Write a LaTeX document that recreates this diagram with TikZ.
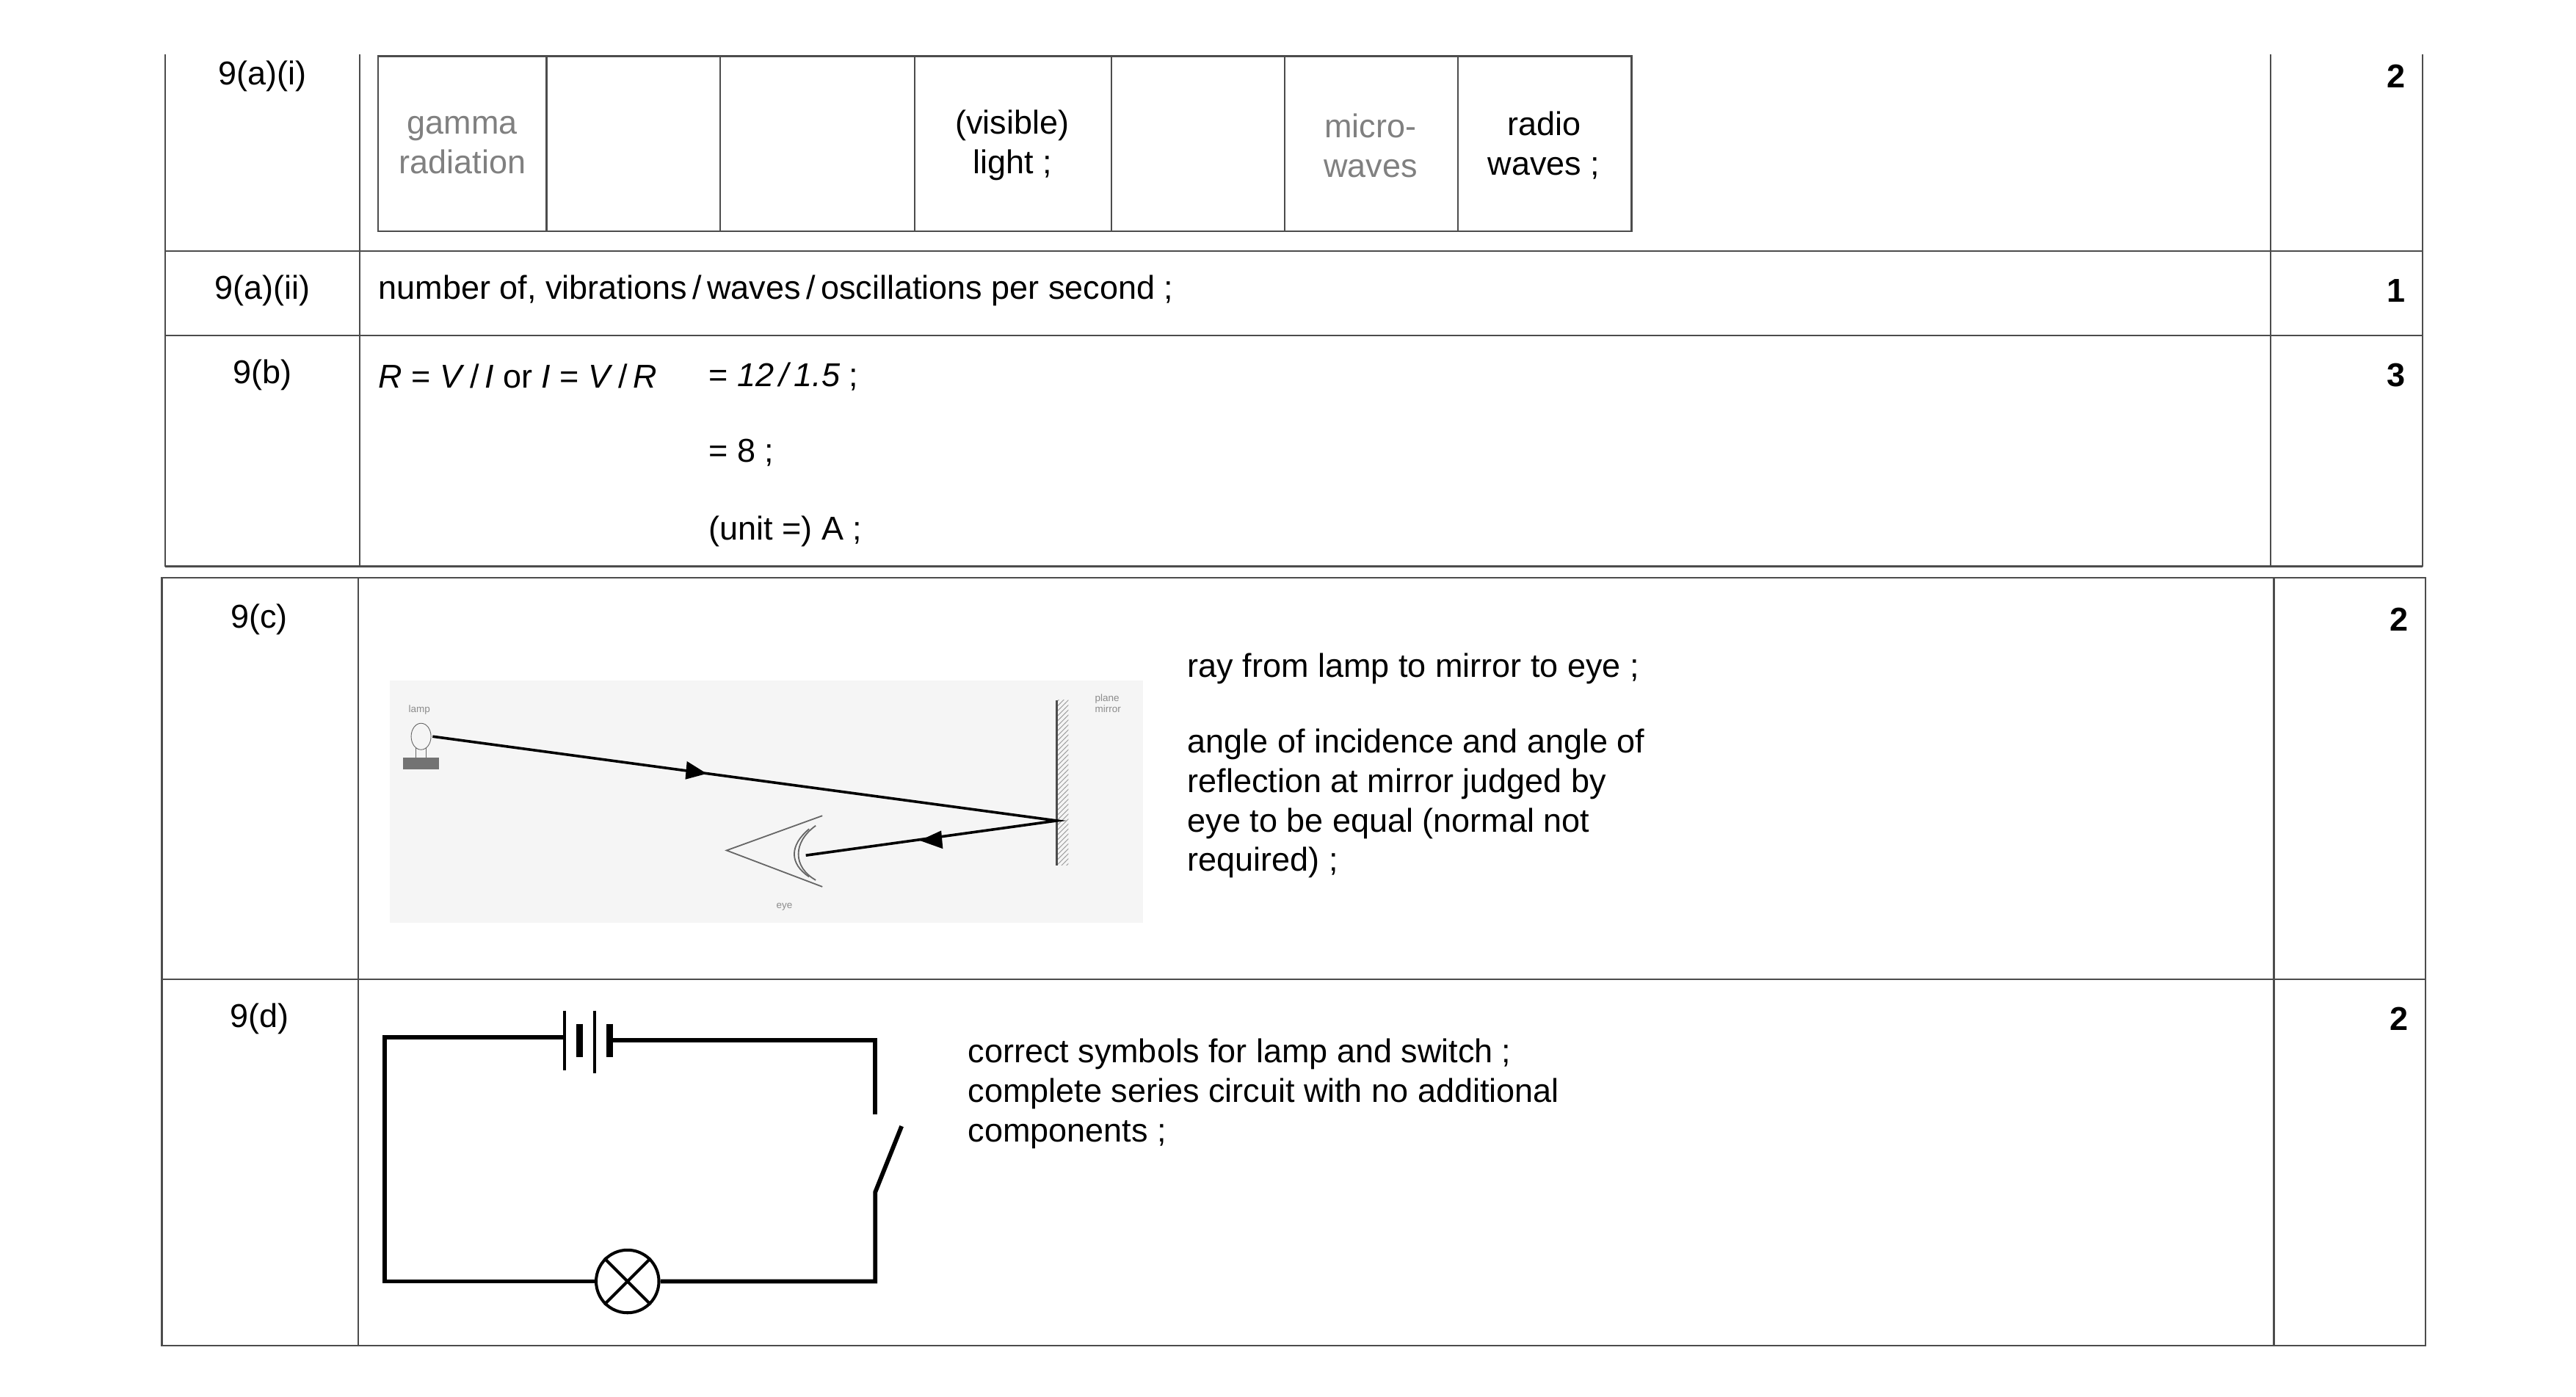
\documentclass[tikz,border=0pt]{standalone}
\usepackage{fontspec}
\setmainfont{Liberation Sans}
\usetikzlibrary{patterns}
\begin{document}
\begin{tikzpicture}[x=1pt,y=-1pt,
  grid/.style={line width=1pt,draw=black!70},
  txt/.style={font=\fontsize{20}{24}\selectfont,inner sep=0pt,align=left},
  gr/.style={txt,text=black!50,align=center},
  ctr/.style={txt,align=center},
  wire/.style={line width=2.6pt},
  ray/.style={line width=1.6pt},
  tiny/.style={font=\fontsize{6}{7}\selectfont,text=black!45,inner sep=0pt,align=left}]
\useasboundingbox (0,0) rectangle (1560,846);
% table part 1
\draw[grid] (100,33) -- (100,343) (218,33) -- (218,343) (1375,33) -- (1375,343) (1467,33) -- (1467,343);
\draw[grid] (100,152) -- (1467,152) (100,203) -- (1467,203) (100,343) -- (1467,343);
% table part 2
\draw[grid] (98,350) rectangle (1469,815);
\draw[grid] (217,350) -- (217,815) (1377,350) -- (1377,815) (98,593) -- (1469,593);
% spectrum table
\draw[grid] (229,34) rectangle (988,140);
\foreach \x in {331,436,554,673,778,883} \draw[grid] (\x,34) -- (\x,140);
\node[txt] (qa1) at (159,46) {9(a)(i)};
\node[txt] (ma1) at (1451,46) {\textbf{2}};
\node[gr] (gam) at (280,88) {gamma\\radiation};
\node[ctr] (vis) at (613,88) {(visible)\\light ;};
\node[gr] (mic) at (830,88) {micro-\\waves};
\node[ctr] (rad) at (935,88) {radio\\waves ;};
\node[txt] (qa2) at (159,176) {9(a)(ii)};
\node[txt,anchor=west] (ta2) at (229,176) {number of, vibrations\,/\,waves\,/\,oscillations per second ;};
\node[txt] (ma2) at (1451,176) {\textbf{1}};
\node[txt] (qb) at (159,227) {9(b)};
\node[txt,anchor=west] (tb1) at (229,228) {\textit{R} = \textit{V}\,/\,\textit{I} or \textit{I} = \textit{V}\,/\,\textit{R}};
\node[txt,anchor=west] (tb2) at (429,228) {= \textit{12\,/\,1.5} ;};
\node[txt,anchor=west] (tb3) at (429,274) {= 8 ;};
\node[txt,anchor=west] (tb4) at (429,322) {(unit =) A ;};
\node[txt] (mb) at (1451,227) {\textbf{3}};
\node[txt] (qc) at (157,375) {9(c)};
\node[txt] (mc) at (1453,375) {\textbf{2}};
\node[txt,anchor=west] (tc1) at (719,405) {ray from lamp to mirror to eye ;};
\node[txt,anchor=north west] (tc2) at (719,441) {angle of incidence and angle of\\reflection at mirror judged by\\eye to be equal (normal not\\required) ;};
% ray picture
\fill[black!4] (236,412) rectangle (692,559);
\fill[pattern=north east lines,pattern color=black!40] (640,424) rectangle (647,524);
\draw[line width=1.2pt,black!70] (640,424) -- (640,524);
\node[tiny] (pm) at (671,426) {plane\\mirror};
\node[tiny] (lampl) at (254,430) {lamp};
\node[tiny] (eyel) at (475,549) {eye};
\draw[black!60] (255,446) ellipse (6 and 8);
\fill[black!55] (244,459) rectangle (266,466);
\draw[black!60] (252,453) -- (252,459) (258,453) -- (258,459);
\coordinate (L) at (262,446);
\coordinate (M) at (640,497);
\coordinate (E) at (488,518);
\draw[ray] (L) -- (M) -- (E);
\fill (428,468.5) -- (415,472) -- (416,461) -- cycle;
\fill (557,509) -- (570,503) -- (571,514) -- cycle;
\draw[black!60,line width=0.8pt] (498,494) -- (440,515) -- (498,537);
\draw[black!60,line width=0.8pt] (494,500) .. controls (480,510) and (480,525) .. (494,533);
\draw[black!60,line width=0.8pt] (490,502) .. controls (478,512) and (478,523) .. (490,531);
% circuit
\node[txt] (qd) at (157,617) {9(d)};
\node[txt] (md) at (1453,617) {\textbf{2}};
\node[txt,anchor=north west] (td) at (586,629) {correct symbols for lamp and switch ;\\complete series circuit with no additional\\components ;};
\coordinate (tl) at (233,628);
\coordinate (b1) at (342,628);
\coordinate (b2) at (370,630);
\coordinate (tr) at (530,630);
\coordinate (s1) at (530,675);
\coordinate (s2) at (530,722);
\coordinate (s3) at (546,682);
\coordinate (br) at (530,776);
\coordinate (bl) at (233,776);
\node[circle,draw,line width=1.8pt,minimum size=38pt,inner sep=0pt] (lmp) at (380,776) {};
\draw[line width=1.8pt] (lmp.north west) -- (lmp.south east) (lmp.north east) -- (lmp.south west);
\draw[wire] (b1) -- (tl) -- (bl) -- (lmp);
\draw[wire] (lmp) -- (br) -- (s2) -- (s3);
\draw[wire] (b2) -- (tr) -- (s1);
\draw[line width=1.8pt] (342,612) -- (342,648) (360,612) -- (360,650);
\draw[line width=4pt] (351,620) -- (351,640) (369,620) -- (369,640);
\end{tikzpicture}
\end{document}
